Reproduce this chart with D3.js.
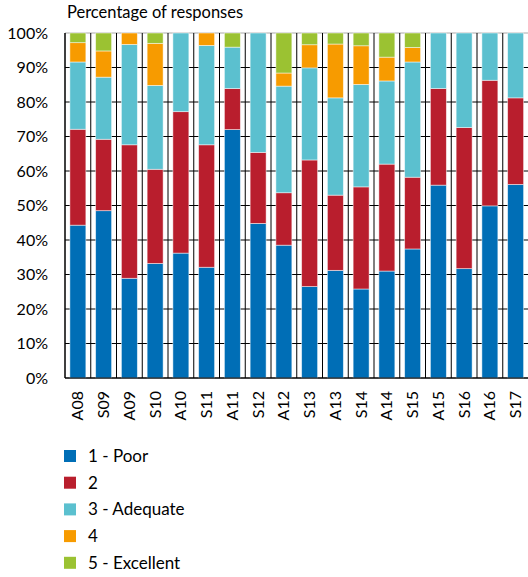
<!DOCTYPE html>
<html>
<head>
<meta charset="utf-8">
<script src="https://cdn.jsdelivr.net/npm/d3@7"></script>
<style>
  body { margin: 0; background: #fff; }
  svg text { font-family: Lato, "Open Sans", sans-serif; fill: #000; }
</style>
</head>
<body>
<div class="chart"></div>
<script>
let terms = ['A08', 'S09', 'A09', 'S10', 'A10', 'S11', 'A11', 'S12', 'A12',
  'S13', 'A13', 'S14', 'A14', 'S15', 'A15', 'S16', 'A16', 'S17'];
let ratings = ['1 - Poor', '2', '3 - Adequate', '4', '5 - Excellent'];
let colors = ['#006eb6', '#b91e2d', '#5bc0cf', '#f79b00', '#9bc232'];

// percentage of responses per rating, one value per term
let poor = [44.3, 48.5, 28.9, 33.2, 36.2, 32.1, 72.0, 44.8, 38.5, 26.5, 31.2, 25.8, 31.0, 37.4, 55.9, 31.7, 49.9, 56.1];
let two = [27.8, 20.7, 38.7, 27.3, 41.0, 35.5, 11.9, 20.6, 15.2, 36.7, 21.8, 29.6, 31.0, 20.8, 28.0, 40.9, 36.4, 25.1];
let adequate = [19.5, 18.0, 29.1, 24.3, 22.8, 28.8, 12.0, 34.6, 30.9, 26.7, 28.2, 29.7, 24.1, 33.4, 16.1, 27.4, 13.7, 18.8];
let four = [5.6, 7.6, 3.3, 12.2, 0, 3.6, 0, 0, 3.8, 6.7, 15.6, 11.2, 6.9, 4.2, 0, 0, 0, 0];
let excellent = [2.8, 5.2, 0, 3.0, 0, 0, 4.1, 0, 11.6, 3.4, 3.2, 3.7, 7.0, 4.2, 0, 0, 0, 0];
let yTicks = [0, 10, 20, 30, 40, 50, 60, 70, 80, 90, 100];

let series = [poor, two, adequate, four, excellent];
let rows = terms.map((t, i) => {
  let r = { term: t };
  ratings.forEach((k, j) => { r[k] = series[j][i]; });
  return r;
});
let stacked = d3.stack().keys(ratings)(rows);

let margin = { left: 65, top: 33 };
let width = 463.5, height = 345;

let svg = d3.select('.chart')
  .append('svg')
  .attr('width', 528)
  .attr('height', 577);

svg.append('text')
  .attr('x', 67)
  .attr('y', 18)
  .style('font-size', '16.5px')
  .text('Percentage of responses');

let g = svg.append('g')
  .attr('transform', `translate(${margin.left},${margin.top})`);

let x = d3.scaleBand().domain(terms).range([0, width]).paddingInner(0.38).paddingOuter(0.19);
let y = d3.scaleLinear().domain([0, 100]).range([height, 0]);

// grid lines
g.selectAll('.hgrid')
  .data(yTicks)
  .enter()
  .append('line')
  .attr('x1', 0)
  .attr('x2', width)
  .attr('y1', d => y(d))
  .attr('y2', d => y(d))
  .attr('stroke', d => d === 100 ? '#aaa' : '#000')
  .attr('stroke-width', 1);

let step = x.step();
g.selectAll('.vgrid')
  .data(d3.range(terms.length + 1))
  .enter()
  .append('line')
  .attr('x1', d => d * step)
  .attr('x2', d => d * step)
  .attr('y1', 0)
  .attr('y2', height)
  .attr('stroke', '#000')
  .attr('stroke-width', 1);

// bars
g.selectAll('.layer')
  .data(stacked)
  .enter()
  .append('g')
  .attr('fill', (d, i) => colors[i])
  .selectAll('rect')
  .data(d => d)
  .enter()
  .append('rect')
  .attr('x', d => x(d.data.term))
  .attr('width', x.bandwidth())
  .attr('y', d => y(d[1]))
  .attr('height', d => Math.max(0, y(d[0]) - y(d[1])))
  .attr('stroke', '#fff')
  .attr('stroke-opacity', 0.6)
  .attr('stroke-width', 0.8);

// axes
g.append('line')
  .attr('x1', 0).attr('x2', 0).attr('y1', 0).attr('y2', height)
  .attr('stroke', '#000');
g.append('line')
  .attr('x1', 0).attr('x2', width).attr('y1', height).attr('y2', height)
  .attr('stroke', '#000');

g.selectAll('.ylab')
  .data(yTicks)
  .enter()
  .append('text')
  .attr('x', -17)
  .attr('y', d => y(d))
  .attr('dy', '0.35em')
  .attr('text-anchor', 'end')
  .style('font-size', '16px')
  .text(d => d + '%');

g.selectAll('.xlab')
  .data(terms)
  .enter()
  .append('text')
  .attr('transform', d => `translate(${x(d) + x.bandwidth() / 2},${height + 13}) rotate(-90)`)
  .attr('dy', '0.35em')
  .attr('text-anchor', 'end')
  .style('font-size', '16px')
  .text(d => d);

// legend
let legend = svg.append('g')
  .selectAll('g')
  .data(ratings)
  .enter()
  .append('g')
  .attr('transform', (d, i) => `translate(64,${456 + i * 26.7})`);

legend.append('rect')
  .attr('y', -6)
  .attr('width', 12)
  .attr('height', 12)
  .attr('fill', (d, i) => colors[i]);

legend.append('text')
  .attr('x', 24)
  .attr('dy', '0.35em')
  .style('font-size', '17px')
  .text(d => d);
</script>
</body>
</html>
